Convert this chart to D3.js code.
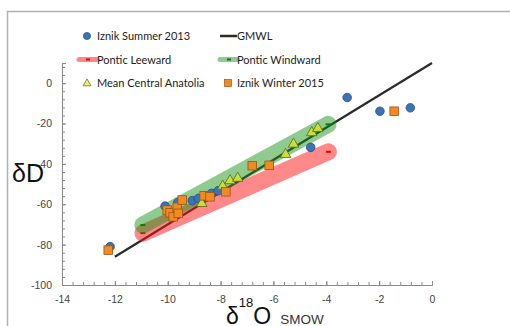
<!DOCTYPE html>
<html lang="en">
<head>
<meta charset="UTF-8">
<title>dD vs d18O</title>
<style>
body { margin: 0; background: #fff; }
text { font-family: "Liberation Sans", Arial, sans-serif; }
.leg { font-family: Lato, sans-serif; font-size: 11px; fill: #222; }
.tick text { fill: #444; font-size: 10.5px; }
</style>
</head>
<body>
<div id="chart"></div>
<script src="https://d3js.org/d3.v7.min.js"></script>
<script>

// Iznik Summer 2013
let summerX = [-12.18, -10.10, -9.62, -9.07, -8.84, -8.59, -8.34, -8.09, -4.59, -3.21, -1.97, -0.82]
let summerY = [-81.0, -60.9, -59.2, -58.2, -57.1, -55.9, -54.6, -53.3, -31.8, -7.1, -13.9, -12.2]
// Iznik Winter 2015
let winterX = [-12.25, -10.02, -9.91, -9.79, -9.64, -9.60, -9.45, -8.62, -8.40, -7.80, -6.80, -6.16, -1.43]
let winterY = [-82.7, -62.9, -64.2, -66.2, -61.5, -64.5, -57.9, -55.8, -56.3, -53.8, -40.9, -40.7, -13.9]
// Mean Central Anatolia
let anatoliaX = [-8.71, -7.92, -7.64, -7.35, -5.54, -5.24, -4.55, -4.32]
let anatoliaY = [-59.1, -50.5, -47.8, -46.6, -34.8, -29.7, -24.0, -21.9]
// lines
let gmwlX = [-12, 0]
let gmwlY = [-86, 10]
let leewardX = [-10.94, -3.92]
let leewardY = [-74.3, -34.0]
let windwardX = [-10.94, -3.93]
let windwardY = [-70.3, -20.4]

let xTicks = [-14, -12, -10, -8, -6, -4, -2, 0]
let yTicks = [-100, -80, -60, -40, -20, 0]

const width = 510, height = 326
let svg = d3.select('#chart').append('svg').attr('width', width).attr('height', height)

let x = d3.scaleLinear().domain([-14, 0]).range([62, 432])
let y = d3.scaleLinear().domain([-100, 10]).range([285, 63])

function pts(xs, ys) {
  return xs.map((v, i) => ({x: v, y: ys[i]}))
}

function drawFrame() {
  svg.append('path')
    .attr('d', 'M7.5,' + height + 'V11.5H' + width)
    .attr('fill', 'none').attr('stroke', '#b0b0b0').attr('stroke-width', 1.5)
}

function drawAxes() {
  let minorX = d3.range(-14, 0.01, 0.4)
  let minorY = d3.range(-100, 10.01, 4)
  let gx = svg.append('g').attr('transform', 'translate(0,285)')
  gx.call(d3.axisBottom(x).tickValues(minorX).tickSize(-3).tickFormat(''))
  gx.append('g').call(d3.axisBottom(x).tickValues(xTicks).tickSize(-4).tickPadding(11)
      .tickFormat(d => d))
  let gy = svg.append('g').attr('transform', 'translate(62,0)')
  gy.call(d3.axisLeft(y).tickValues(minorY).tickSize(-3).tickFormat(''))
  gy.append('g').call(d3.axisLeft(y).tickValues(yTicks).tickSize(-4).tickPadding(10)
      .tickFormat(d => d))
  svg.selectAll('.domain, .tick line').attr('stroke', '#888')
  svg.selectAll('.tick text').attr('font-family', '"Liberation Sans", Arial, sans-serif')
}

function drawTitles() {
  svg.append('text').attr('x', 12).attr('y', 182).attr('font-size', 25).attr('fill', '#111').text('δD')
  let t = svg.append('text').attr('x', 226).attr('y', 324).attr('fill', '#111')
  t.append('tspan').attr('font-size', 23).text('δ')
  t.append('tspan').attr('font-size', 13).attr('dy', -17).text('18')
  t.append('tspan').attr('font-size', 23).attr('dy', 17).text('O')
  t.append('tspan').attr('font-size', 13.5).attr('dx', 9).attr('fill', '#333').text('SMOW')
}

let line = d3.line().x(d => x(d.x)).y(d => y(d.y))

function drawLines() {
  svg.append('path').datum(pts(gmwlX, gmwlY))
    .attr('d', line).attr('fill', 'none').attr('stroke', '#2b2b2b').attr('stroke-width', 2.2)

  let bands = [
    {d: pts(leewardX, leewardY), band: 'rgba(255,20,20,0.5)', mark: '#f00000'},
    {d: pts(windwardX, windwardY), band: 'rgba(20,145,20,0.48)', mark: '#117711'}
  ]
  bands.forEach(b => {
    svg.append('path').datum(b.d)
      .attr('d', line).attr('fill', 'none').attr('stroke', b.band)
      .attr('stroke-width', 17).attr('stroke-linecap', 'round')
    svg.append('g').selectAll('rect').data(b.d).join('rect')
      .attr('x', d => x(d.x) - 2.5).attr('y', d => y(d.y) - 1)
      .attr('width', 5).attr('height', 2).attr('fill', b.mark)
  })
}

let tri = d3.symbol().type(d3.symbolTriangle).size(48)

function drawPoints() {
  svg.append('g').selectAll('circle').data(pts(summerX, summerY)).join('circle')
    .attr('cx', d => x(d.x)).attr('cy', d => y(d.y)).attr('r', 4.3)
    .attr('fill', '#3a73b8').attr('stroke', '#25507f').attr('stroke-width', 0.8)

  svg.append('g').selectAll('path').data(pts(anatoliaX, anatoliaY)).join('path')
    .attr('d', tri).attr('transform', d => 'translate(' + x(d.x) + ',' + (y(d.y) + 1) + ')')
    .attr('fill', '#c9df3a').attr('stroke', '#5e6420').attr('stroke-width', 0.8)

  svg.append('g').selectAll('rect').data(pts(winterX, winterY)).join('rect')
    .attr('x', d => x(d.x) - 4.3).attr('y', d => y(d.y) - 4.3).attr('width', 8.6).attr('height', 8.6)
    .attr('fill', '#f28a24').attr('stroke', '#9a5515').attr('stroke-width', 0.8)
}

function drawLegend() {
  let g = svg.append('g')
  g.append('circle').attr('cx', 87).attr('cy', 36).attr('r', 3.6)
    .attr('fill', '#3a73b8').attr('stroke', '#25507f').attr('stroke-width', 0.7)
  g.append('text').attr('class', 'leg').attr('x', 97).attr('y', 40).text('Iznik Summer 2013')

  g.append('line').attr('x1', 220).attr('x2', 237).attr('y1', 36).attr('y2', 36)
    .attr('stroke', '#2b2b2b').attr('stroke-width', 2.5)
  g.append('text').attr('class', 'leg').attr('x', 237).attr('y', 40).text('GMWL')

  g.append('line').attr('x1', 79).attr('x2', 97).attr('y1', 59.5).attr('y2', 59.5)
    .attr('stroke', 'rgba(255,20,20,0.5)').attr('stroke-width', 5).attr('stroke-linecap', 'round')
  g.append('rect').attr('x', 86).attr('y', 58.5).attr('width', 4).attr('height', 2).attr('fill', '#f00000')
  g.append('text').attr('class', 'leg').attr('x', 97).attr('y', 63.5).text('Pontic Leeward')

  g.append('line').attr('x1', 220).attr('x2', 237).attr('y1', 59.5).attr('y2', 59.5)
    .attr('stroke', 'rgba(20,145,20,0.48)').attr('stroke-width', 5).attr('stroke-linecap', 'round')
  g.append('rect').attr('x', 227).attr('y', 58.5).attr('width', 4).attr('height', 2).attr('fill', '#117711')
  g.append('text').attr('class', 'leg').attr('x', 237).attr('y', 63.5).text('Pontic Windward')

  g.append('path').attr('d', d3.symbol().type(d3.symbolTriangle).size(28))
    .attr('transform', 'translate(87,83.5)')
    .attr('fill', '#e6ef7a').attr('stroke', '#5e6420').attr('stroke-width', 0.7)
  g.append('text').attr('class', 'leg').attr('x', 97).attr('y', 87).text('Mean Central Anatolia')

  g.append('rect').attr('x', 224.5).attr('y', 79.5).attr('width', 7).attr('height', 7)
    .attr('fill', '#f28a24').attr('stroke', '#9a5515').attr('stroke-width', 0.7)
  g.append('text').attr('class', 'leg').attr('x', 237).attr('y', 87).text('Iznik Winter 2015')
}

drawFrame()
drawAxes()
drawTitles()
drawLines()
drawPoints()
drawLegend()

</script>
</body>
</html>
